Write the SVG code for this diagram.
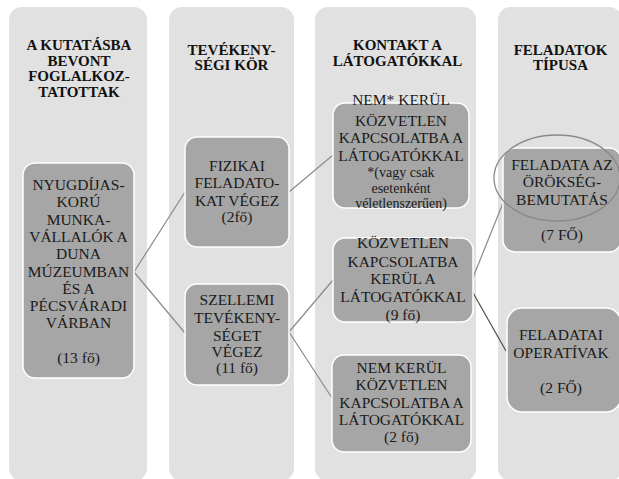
<svg xmlns="http://www.w3.org/2000/svg" width="619" height="479" viewBox="0 0 619 479">
<style>
.col{fill:#e1e1e1;}
.box{fill:#a6a6a6;stroke:#ffffff;stroke-width:1.5;}
.hd{font-family:'Liberation Serif',serif;font-size:15px;font-weight:bold;fill:#111;text-anchor:middle;}
.tx{font-family:'Liberation Serif',serif;font-size:15.5px;fill:#1a1a1a;text-anchor:middle;}
.sm{font-size:14px;}
.ln{stroke:#8a8a8a;stroke-width:1.2;fill:none;}
.ln2{stroke:#4d4d4d;stroke-width:1.2;fill:none;}
</style>
<rect width="619" height="479" fill="#ffffff"/>
<g id="columns">
<rect class="col" x="9" y="7" width="138" height="474" rx="13"/>
<rect class="col" x="169" y="7" width="125" height="474" rx="13"/>
<rect class="col" x="315" y="7" width="161" height="474" rx="13"/>
<rect class="col" x="498" y="7" width="124" height="474" rx="13"/>
</g>
<g id="headers">
<text class="hd" x="79" y="50">A KUTATÁSBA</text>
<text class="hd" x="79" y="65.5">BEVONT</text>
<text class="hd" x="79" y="81">FOGLALKOZ-</text>
<text class="hd" x="79" y="96.5">TATOTTAK</text>
<text class="hd" x="231.5" y="55">TEVÉKENY-</text>
<text class="hd" x="231.5" y="70">SÉGI KÖR</text>
<text class="hd" x="397.5" y="49.5">KONTAKT A</text>
<text class="hd" x="397.5" y="65.5">LÁTOGATÓKKAL</text>
<text class="hd" x="560.5" y="55">FELADATOK</text>
<text class="hd" x="560.5" y="70">TÍPUSA</text>
</g>
<g id="connectors">
<line class="ln" x1="134" y1="272" x2="185" y2="192"/>
<line class="ln" x1="134" y1="272" x2="185" y2="333"/>
<line class="ln" x1="289" y1="192" x2="333" y2="155"/>
<line class="ln" x1="289" y1="332" x2="333" y2="280"/>
<line class="ln" x1="289" y1="332" x2="332" y2="398"/>
<line class="ln" x1="472" y1="280" x2="503" y2="203"/>
<line class="ln2" x1="472" y1="291" x2="506" y2="351"/>
</g>
<g id="n1">
<rect class="box" x="23" y="163" width="111" height="215" rx="12"/>
<text class="tx" x="78.5" y="190">NYUGDÍJAS-</text>
<text class="tx" x="78.5" y="207.3">KORÚ</text>
<text class="tx" x="78.5" y="224.6">MUNKA-</text>
<text class="tx" x="78.5" y="241.9">VÁLLALÓK A</text>
<text class="tx" x="78.5" y="259.2">DUNA</text>
<text class="tx" x="78.5" y="276.5">MÚZEUMBAN</text>
<text class="tx" x="78.5" y="293.8">ÉS A</text>
<text class="tx" x="78.5" y="311.1">PÉCSVÁRADI</text>
<text class="tx" x="78.5" y="328.4">VÁRBAN</text>
<text class="tx" x="78.5" y="363">(13 fő)</text>
</g>
<g id="n2">
<rect class="box" x="185" y="137" width="104" height="110" rx="12"/>
<text class="tx" x="237" y="171">FIZIKAI</text>
<text class="tx" x="237" y="188">FELADATO-</text>
<text class="tx" x="237" y="206">KAT VÉGEZ</text>
<text class="tx" x="237" y="222">(2fő)</text>
</g>
<g id="n3">
<rect class="box" x="185" y="284" width="104" height="101" rx="12"/>
<text class="tx" x="237" y="305">SZELLEMI</text>
<text class="tx" x="237" y="323">TEVÉKENY-</text>
<text class="tx" x="237" y="341">SÉGET</text>
<text class="tx" x="237" y="357">VÉGEZ</text>
<text class="tx" x="237" y="373">(11 fő)</text>
</g>
<g id="n4">
<rect class="box" x="333" y="103" width="136" height="105" rx="12"/>
<text class="tx" x="401" y="105">NEM* KERÜL</text>
<text class="tx" x="401" y="126">KÖZVETLEN</text>
<text class="tx" x="401" y="143">KAPCSOLATBA A</text>
<text class="tx" x="401" y="161">LÁTOGATÓKKAL</text>
<text class="tx sm" x="401" y="177">*(vagy csak</text>
<text class="tx sm" x="401" y="192.5">esetenként</text>
<text class="tx sm" x="401" y="208">véletlenszerűen)</text>
</g>
<g id="n5">
<rect class="box" x="333" y="238" width="140" height="84" rx="12"/>
<text class="tx" x="403" y="248">KÖZVETLEN</text>
<text class="tx" x="403" y="267">KAPCSOLATBA</text>
<text class="tx" x="403" y="284">KERÜL A</text>
<text class="tx" x="403" y="302">LÁTOGATÓKKAL</text>
<text class="tx" x="403" y="320">(9 fő)</text>
</g>
<g id="n6">
<rect class="box" x="332" y="355" width="139" height="97" rx="12"/>
<text class="tx" x="401.5" y="373">NEM KERÜL</text>
<text class="tx" x="401.5" y="390">KÖZVETLEN</text>
<text class="tx" x="401.5" y="408">KAPCSOLATBA A</text>
<text class="tx" x="401.5" y="425">LÁTOGATÓKKAL</text>
<text class="tx" x="401.5" y="442">(2 fő)</text>
</g>
<g id="n7">
<rect class="box" x="503" y="148" width="118" height="104" rx="12"/>
<text class="tx" x="562" y="170">FELADATA AZ</text>
<text class="tx" x="562" y="187">ÖRÖKSÉG-</text>
<text class="tx" x="562" y="205">BEMUTATÁS</text>
<text class="tx" x="562" y="240">(7 FŐ)</text>
</g>
<g id="n8">
<rect class="box" x="507" y="308" width="114" height="104" rx="15"/>
<text class="tx" x="561" y="340">FELADATAI</text>
<text class="tx" x="561" y="358">OPERATÍVAK</text>
<text class="tx" x="561" y="393">(2 FŐ)</text>
</g>
<g id="highlight">
<ellipse cx="557" cy="178" rx="63" ry="43" fill="none" stroke="#8a8a8a" stroke-width="1.3"/>
</g>
</svg>
